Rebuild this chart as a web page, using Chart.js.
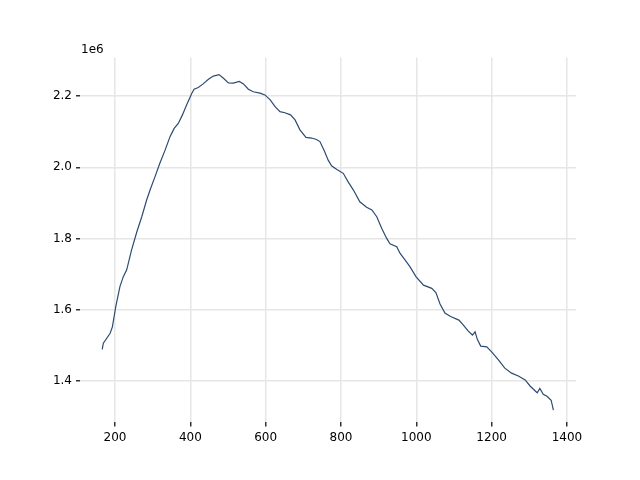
<!DOCTYPE html>
<html>
<head>
<meta charset="utf-8">
<script src="https://cdn.jsdelivr.net/npm/chart.js@4/dist/chart.umd.min.js"></script>
<style>
  html, body { margin: 0; padding: 0; background: #fff; }
  canvas { display: block; }
</style>
</head>
<body>
<canvas id="chart" width="640" height="480"></canvas>
<script>
// Curve (x, value in units of 1e6)
const xValues = [166, 169, 187, 193, 202, 213, 222, 231, 244, 258, 271, 284, 293, 306, 319, 333, 346, 357, 368, 379,
    390, 404, 410, 421, 434, 448, 461, 476, 488, 501, 514, 530, 541, 554, 567, 585, 598, 612, 625, 638,
    651, 666, 678, 691, 707, 722, 735, 744, 755, 766, 775, 789, 806, 819, 833, 850, 868, 882, 895, 908,
    921, 930, 948, 957, 967, 983, 999, 1019, 1041, 1052, 1063, 1076, 1091, 1113, 1125, 1138, 1149, 1156, 1162, 1171,
    1187, 1200, 1218, 1235, 1253, 1271, 1289, 1302, 1318, 1321, 1328, 1337, 1347, 1358, 1364];
const yValues = [1.489, 1.506, 1.534, 1.552, 1.609, 1.665, 1.693, 1.712, 1.768, 1.819, 1.861, 1.908, 1.936, 1.973, 2.011, 2.048, 2.086, 2.109, 2.123, 2.147,
    2.175, 2.208, 2.219, 2.224, 2.234, 2.247, 2.256, 2.260, 2.250, 2.237, 2.236, 2.241, 2.234, 2.219, 2.212, 2.208, 2.203, 2.189, 2.170, 2.156,
    2.153, 2.147, 2.133, 2.105, 2.084, 2.082, 2.078, 2.072, 2.048, 2.020, 2.004, 1.994, 1.983, 1.959, 1.936, 1.903, 1.888, 1.880, 1.861, 1.829,
    1.801, 1.785, 1.777, 1.758, 1.744, 1.721, 1.693, 1.669, 1.660, 1.648, 1.616, 1.591, 1.581, 1.571, 1.557, 1.540, 1.529, 1.538, 1.517, 1.498,
    1.496, 1.482, 1.459, 1.436, 1.422, 1.414, 1.403, 1.386, 1.370, 1.367, 1.379, 1.363, 1.357, 1.346, 1.318];

const xTicks = [200, 400, 600, 800, 1000, 1200, 1400];
const yTicks = [1.4, 1.6, 1.8, 2.0, 2.2];
const offsetLabel = '1e6';

const points = xValues.map((x, i) => ({ x: x, y: yValues[i] * 1e6 }));

// Draw the "1e6" offset text above the y axis
const offsetPlugin = {
    id: 'offsetLabel',
    afterDraw(chart) {
        const ctx = chart.ctx;
        ctx.save();
        ctx.fillStyle = '#000';
        ctx.font = '12px "DejaVu Sans"';
        ctx.textAlign = 'left';
        ctx.textBaseline = 'alphabetic';
        ctx.fillText(offsetLabel, chart.chartArea.left + 1, chart.chartArea.top - 5);
        ctx.restore();
    }
};

Chart.defaults.font.family = '"DejaVu Sans", sans-serif';
Chart.defaults.font.size = 12;
Chart.defaults.color = '#000';

new Chart(document.getElementById('chart'), {
    type: 'line',
    data: {
        datasets: [{
            data: points,
            borderColor: '#2d4b70',
            borderWidth: 1.2,
            pointRadius: 0,
            tension: 0,
            fill: false
        }]
    },
    options: {
        responsive: false,
        animation: false,
        layout: { padding: { left: 0, top: 57.6, right: 64, bottom: 0 } },
        plugins: {
            legend: { display: false },
            tooltip: { enabled: false }
        },
        scales: {
            x: {
                type: 'linear',
                min: 107,
                max: 1424,
                afterBuildTicks: scale => { scale.ticks = xTicks.map(v => ({ value: v })); },
                afterFit: scale => { scale.height = 57.6; },
                border: { display: false },
                grid: { color: '#e6e6e6', lineWidth: 1.5, tickColor: '#333', tickLength: 4 },
                ticks: { padding: 4, maxRotation: 0, callback: v => String(v) }
            },
            y: {
                min: 1.2838e6,
                max: 2.3078e6,
                afterBuildTicks: scale => { scale.ticks = yTicks.map(v => ({ value: v * 1e6 })); },
                afterFit: scale => { scale.width = 80; },
                border: { display: false },
                grid: { color: '#e6e6e6', lineWidth: 1.5, tickColor: '#333', tickLength: 4 },
                ticks: { padding: 4, callback: v => (v / 1e6).toFixed(1) }
            }
        }
    },
    plugins: [offsetPlugin]
});
</script>
</body>
</html>
